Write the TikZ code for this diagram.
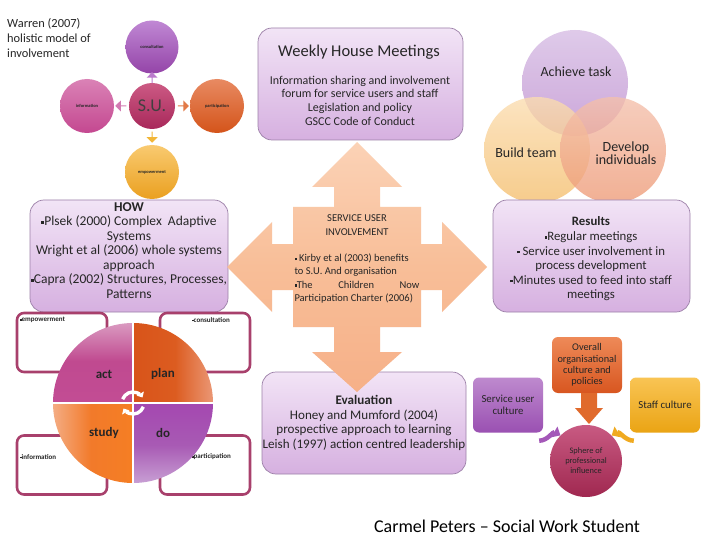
\documentclass[tikz,border=0pt]{standalone}
\usepackage{fontspec}
\setmainfont{Carlito}
\usetikzlibrary{shapes.arrows,arrows.meta,calc}
\definecolor{boxtop}{HTML}{F2E4F6}
\definecolor{boxbot}{HTML}{D6B0E0}
\definecolor{boxline}{HTML}{9C80A8}
\definecolor{peachtop}{HTML}{FBD2B6}
\definecolor{peachbot}{HTML}{F6B088}
\definecolor{maroon}{HTML}{A8406C}
\newcommand\dc[1]{\definecolor{h#1}{HTML}{#1}}
\dc{C088D4}\dc{9444A8}\dc{DA82B6}\dc{C44890}\dc{E88A62}\dc{D4541A}\dc{F9CA70}\dc{EAA020}
\dc{CC5A84}\dc{A8285A}\dc{BA7ACC}\dc{D27AB2}\dc{E27A48}\dc{F2B638}\dc{D6BCE4}\dc{BE8ECF}
\dc{FBDDB0}\dc{F5BE6C}\dc{F4C0AC}\dc{EE9A76}\dc{DCA0C4}\dc{C24C94}\dc{C04A90}\dc{D8541A}
\dc{EC9C7C}\dc{DC5C20}\dc{F4B08A}\dc{F57E24}\dc{F27A2A}\dc{A448B0}\dc{CAA4D6}\dc{A85AB4}
\dc{F8BE98}\dc{EE8A58}\dc{D85620}\dc{BE8ACE}\dc{9A50B2}\dc{F9C454}\dc{EAA414}\dc{C85A82}
\dc{A02850}\dc{E06A2C}\dc{A458B8}\dc{F0AA20}
\newcommand\sqb{\rule[0.3ex]{0.45ex}{0.45ex}}
\tikzset{
  lbl/.style={inner sep=0pt, align=center, text=black!85},
  pbox/.style={draw=boxline, line width=0.7pt, rounded corners=14pt, top color=boxtop, bottom color=boxbot, inner sep=0pt},
  wbox/.style={draw=maroon, line width=2.6pt, rounded corners=7pt, fill=white, inner sep=0pt},
  ball/.style 2 args={circle, inner sep=0pt, top color=#1, bottom color=#2, draw=none},
  tinyl/.style={lbl, font=\fontsize{4.5}{5}\selectfont\bfseries},
  blk/.style={single arrow, inner sep=0pt, minimum width=11pt, minimum height=11pt, single arrow head extend=2pt, draw=none},
  venn/.style 2 args={circle, inner sep=0pt, minimum size=106pt, top color=#1, bottom color=#2, fill opacity=0.78},
  gbox/.style 2 args={rounded corners=6pt, inner sep=0pt, top color=#1, bottom color=#2},
  cyc/.style={white, line width=3.4pt, -{Triangle[length=4.5pt,width=8pt]}}
}
\begin{document}
\begin{tikzpicture}[x=1pt,y=-1pt]
\useasboundingbox (0,0) rectangle (720,540);
\fill[white] (0,0) rectangle (720,540);

% ---------- Warren model ----------
\node[lbl, anchor=north west, align=left, font=\fontsize{12.4}{15}\selectfont] (warren) at (7,18) {Warren (2007)\\holistic model of\\involvement};
\node[ball={hC088D4}{h9444A8}, minimum size=53pt] (cons) at (152,47) {};
\node[ball={hDA82B6}{hC44890}, minimum size=54pt] (info) at (87,106) {};
\node[ball={hE88A62}{hD4541A}, minimum size=54pt] (part) at (217,106) {};
\node[ball={hF9CA70}{hEAA020}, minimum size=54pt] (emp) at (152,172) {};
\node[ball={hCC5A84}{hA8285A}, minimum size=46pt] (su) at (152,106) {};
\node[lbl, font=\fontsize{18}{18}\selectfont, text=black!75] at (su) {S.U.};
\node[tinyl] at (cons) {consultation};
\node[tinyl] at (info) {information};
\node[tinyl] at (part) {participation};
\node[tinyl] at (emp) {empowerment};
\node[blk, fill=hBA7ACC, rotate=90] (aup) at (152,78) {};
\node[blk, fill=hD27AB2, rotate=180] (alt) at (121,106) {};
\node[blk, fill=hE27A48, rotate=0] (art) at (183,106) {};
\node[blk, fill=hF2B638, rotate=-90] (adn) at (152,137) {};

% ---------- Weekly House Meetings ----------
\node[pbox, minimum width=205pt, minimum height=112pt] (weekly) at (360.5,84) {};
\node[lbl, font=\fontsize{16.5}{17}\selectfont] (wtitle) at (359,52) {Weekly House Meetings};
\node[lbl, font=\fontsize{12}{13.7}\selectfont] (wtext) at (360,100.5) {Information sharing and involvement\\forum for service users and staff\\Legislation and policy\\GSCC Code of Conduct};

% ---------- Venn ----------
\node[venn={hD6BCE4}{hBE8ECF}] (achieve) at (575,83) {};
\node[venn={hFBDDB0}{hF5BE6C}] (build) at (537,150) {};
\node[venn={hF4C0AC}{hEE9A76}] (develop) at (613,150) {};
\node[lbl, font=\fontsize{14}{13}\selectfont] at (576,72) {Achieve task};
\node[lbl, font=\fontsize{14}{13}\selectfont] at (526,153) {Build team};
\node[lbl, font=\fontsize{14}{13}\selectfont] at (626,153) {Develop\\individuals};

% ---------- HOW ----------
\node[pbox, minimum width=198pt, minimum height=112pt] (how) at (129,256) {};
\node[lbl, font=\fontsize{13.5}{14.5}\selectfont] (howtext) at (129,250.5) {\textbf{HOW}\\\sqb Plsek (2000) Complex\ \ Adaptive\\Systems\\Wright et al (2006) whole systems\\approach\\\sqb Capra (2002) Structures, Processes,\\Patterns};

% ---------- Results ----------
\node[pbox, minimum width=197pt, minimum height=112pt] (results) at (591.5,256) {};
\node[lbl, font=\fontsize{12.8}{14.6}\selectfont] (restext) at (591,259) {\textbf{Results}\\\sqb Regular meetings\\\sqb\ Service user involvement in\\process development\\\sqb Minutes used to feed into staff\\meetings};

% ---------- PDCA ----------
\node[wbox, minimum width=90pt, minimum height=59pt] (b1) at (62,342.5) {};
\node[wbox, minimum width=90pt, minimum height=59pt] (b2) at (205,342.5) {};
\node[wbox, minimum width=90pt, minimum height=59pt] (b3) at (62,465) {};
\node[wbox, minimum width=90pt, minimum height=59pt] (b4) at (205,465) {};
\node[lbl, anchor=west, font=\fontsize{7}{7}\selectfont\bfseries] at (20,320) {\sqb empowerment};
\node[lbl, anchor=west, font=\fontsize{7}{7}\selectfont\bfseries] at (192,320) {\sqb consultation};
\node[lbl, anchor=west, font=\fontsize{7}{7}\selectfont\bfseries] at (20,457) {\sqb information};
\node[lbl, anchor=west, font=\fontsize{7}{7}\selectfont\bfseries] at (192,457) {\sqb participation};
\coordinate (pc) at (133,403);
\begin{scope}
\clip (pc) circle (80);
\shade[top color=hDCA0C4, bottom color=hC24C94, middle color=hC04A90] (50,320) rectangle (131.8,401.8);
\shade[left color=hD8541A, right color=hEC9C7C, middle color=hDC5C20] (134.2,320) rectangle (216,401.8);
\shade[left color=hF4B08A, right color=hF57E24, middle color=hF27A2A] (50,404.2) rectangle (131.8,486);
\shade[top color=hA448B0, bottom color=hCAA4D6, middle color=hA85AB4] (134.2,404.2) rectangle (216,486);
\end{scope}
\node[lbl, font=\fontsize{13}{13}\selectfont\bfseries] (act) at (104,374) {act};
\node[lbl, font=\fontsize{13}{13}\selectfont\bfseries] (plan) at (163,374) {plan};
\node[lbl, font=\fontsize{13}{13}\selectfont\bfseries] (study) at (104,433) {study};
\node[lbl, font=\fontsize{13}{13}\selectfont\bfseries] (do) at (163,433) {do};
\draw[cyc] (pc) ++(200:11) arc[start angle=200, end angle=330, radius=11];
\draw[cyc] (pc) ++(20:11) arc[start angle=20, end angle=150, radius=11];

% ---------- Evaluation ----------
\node[pbox, minimum width=204pt, minimum height=102pt] (eval) at (364,423) {};
\node[lbl, font=\fontsize{13.1}{14.7}\selectfont] (evtext) at (364,423) {\textbf{Evaluation}\\Honey and Mumford (2004)\\prospective approach to learning\\Leish (1997) action centred leadership};

% ---------- Quad arrow callout ----------
\shade[top color=peachtop, bottom color=peachbot, middle color=hF8BE98]
 (357,142) -- (402,187) -- (380,187) -- (380,207) -- (421,207) -- (421,244) -- (442,244) -- (442,222)
 -- (487,267) -- (442,312) -- (442,290) -- (421,290) -- (421,327) -- (380,327) -- (380,352) -- (402,352)
 -- (357,392) -- (312,352) -- (334,352) -- (334,327) -- (293,327) -- (293,290) -- (272,290) -- (272,312)
 -- (227,267) -- (272,222) -- (272,244) -- (293,244) -- (293,207) -- (334,207) -- (334,187) -- (312,187) -- cycle;
\coordinate (quad) at (357,267);
\node[lbl, font=\fontsize{10.5}{13.4}\selectfont] (sui) at (357,225) {SERVICE USER\\INVOLVEMENT};
\node[lbl, align=left, font=\fontsize{10.5}{13.2}\selectfont] (kirby) at (357,278.5) {\sqb\ Kirby et al (2003) benefits\\to S.U. And organisation\\\makebox[125pt][s]{\sqb The Children Now}\\Participation Charter (2006)};

% ---------- Sphere of influence ----------
\node[gbox={hEE8A58}{hD85620}, minimum width=70pt, minimum height=56pt] (overall) at (587,365) {};
\node[lbl, font=\fontsize{10.3}{11.3}\selectfont] at (overall) {Overall\\organisational\\culture and\\policies};
\node[gbox={hBE8ACE}{h9A50B2}, minimum width=70pt, minimum height=55pt] (sucult) at (508,405) {};
\node[lbl, font=\fontsize{10.8}{11.5}\selectfont] at (508,405) {Service user\\culture};
\node[gbox={hF9C454}{hEAA414}, minimum width=70pt, minimum height=55pt] (staff) at (665,405) {};
\node[lbl, font=\fontsize{10.8}{11.5}\selectfont] at (665,405) {Staff culture};
\node[ball={hC85A82}{hA02850}, minimum size=72pt] (sphere) at (586,461) {};
\node[lbl, font=\fontsize{8.4}{10}\selectfont] at (sphere) {Sphere of\\professional\\influence};
\fill[hE06A2C] (581,393) -- (597,393) -- (597,408) -- (603,408) -- (589,424) -- (575,408) -- (581,408) -- cycle;
\draw[hA458B8, line width=4.5pt, -{Triangle[length=7pt,width=12pt]}] (sucult.south east) ++(-4,8) to[out=0,in=150] (sphere.north west);
\draw[hF0AA20, line width=4.5pt, -{Triangle[length=7pt,width=12pt]}] (staff.south west) ++(4,8) to[out=180,in=30] (sphere.north east);

% ---------- footer ----------
\node[lbl, font=\fontsize{18}{18}\selectfont, text=black] (footer) at (507,526) {Carmel Peters -- Social Work Student};
\end{tikzpicture}
\end{document}
